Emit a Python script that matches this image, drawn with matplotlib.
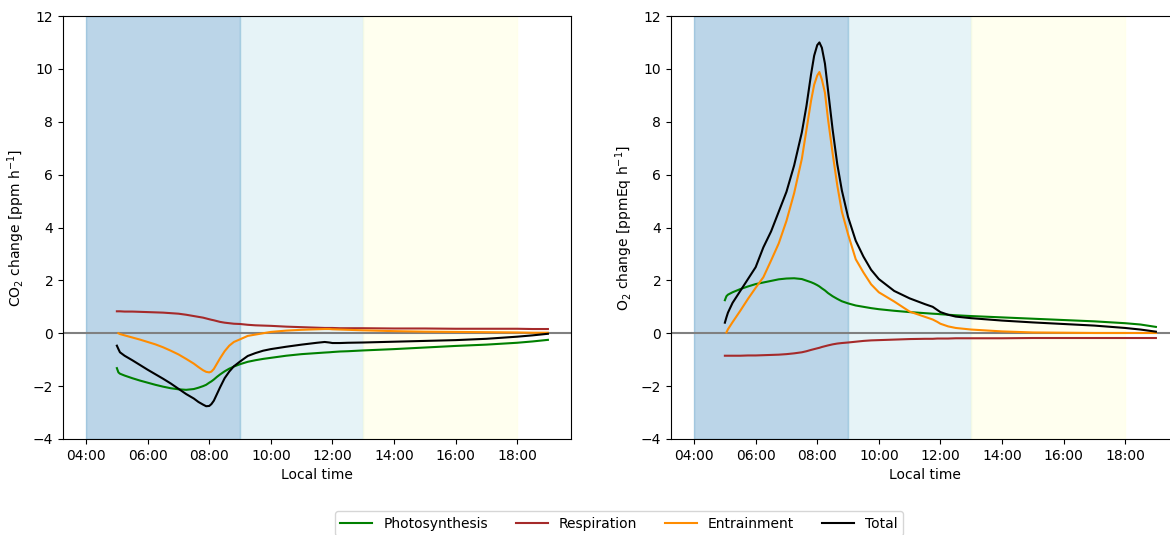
import matplotlib
matplotlib.use("Agg")
import matplotlib.pyplot as plt
import numpy as np

# local time in hours
hours = [5.0, 5.05, 5.1, 5.25, 5.5, 5.75, 6.0, 6.25, 6.5, 6.75, 7.0, 7.25, 7.5, 7.65, 7.8, 7.9,
         8.0, 8.07, 8.15, 8.25, 8.35, 8.5, 8.65, 8.8, 9.0, 9.25, 9.5, 9.75, 10.0, 10.5, 11.0,
         11.5, 11.75, 11.9, 12.0, 12.25, 12.5, 13.0, 14.0, 15.0, 16.0, 17.0, 18.0, 18.5, 19.0]

# CO2 change [ppm h-1]
co2_photo = [-1.32, -1.48, -1.53, -1.6, -1.7, -1.79, -1.87, -1.95, -2.02, -2.08, -2.12, -2.14, -2.11,
             -2.06, -2.0, -1.95, -1.87, -1.82, -1.75, -1.65, -1.56, -1.44, -1.34, -1.26, -1.17, -1.08,
             -1.02, -0.97, -0.93, -0.85, -0.79, -0.75, -0.73, -0.72, -0.71, -0.69, -0.68, -0.65, -0.6,
             -0.54, -0.48, -0.43, -0.36, -0.31, -0.25]
co2_resp = [0.83, 0.83, 0.83, 0.82, 0.82, 0.81, 0.8, 0.79, 0.78, 0.76, 0.74, 0.7, 0.65, 0.62, 0.59,
            0.56, 0.53, 0.51, 0.49, 0.46, 0.43, 0.4, 0.38, 0.36, 0.35, 0.32, 0.3, 0.29, 0.28, 0.25,
            0.23, 0.21, 0.2, 0.2, 0.2, 0.19, 0.19, 0.19, 0.18, 0.18, 0.17, 0.17, 0.17, 0.16, 0.16]
co2_entr = [np.nan, 0.0, -0.03, -0.08, -0.16, -0.24, -0.33, -0.42, -0.53, -0.66, -0.8, -0.97, -1.15,
            -1.28, -1.4, -1.46, -1.48, -1.45, -1.35, -1.15, -0.95, -0.68, -0.47, -0.33, -0.23, -0.1,
            -0.05, 0.0, 0.05, 0.1, 0.13, 0.15, 0.16, 0.16, 0.15, 0.14, 0.13, 0.11, 0.08, 0.06, 0.05,
            0.04, 0.03, 0.02, 0.02]
co2_total = [-0.47, -0.6, -0.72, -0.85, -1.02, -1.2, -1.38, -1.55, -1.72, -1.9, -2.1, -2.3, -2.47,
             -2.6, -2.7, -2.76, -2.75, -2.68, -2.55, -2.3, -2.05, -1.7, -1.45, -1.25, -1.07, -0.86,
             -0.75, -0.66, -0.6, -0.51, -0.43, -0.36, -0.33, -0.35, -0.37, -0.37, -0.36, -0.35, -0.32,
             -0.29, -0.26, -0.21, -0.13, -0.08, -0.02]

# O2 change [ppmEq h-1]
o2_photo = [1.25, 1.4, 1.46, 1.55, 1.67, 1.77, 1.86, 1.92, 1.98, 2.04, 2.07, 2.08, 2.05, 1.99, 1.93,
            1.88, 1.82, 1.77, 1.7, 1.62, 1.52, 1.4, 1.3, 1.21, 1.13, 1.05, 1.0, 0.95, 0.91, 0.85, 0.8,
            0.76, 0.74, 0.73, 0.72, 0.7, 0.68, 0.65, 0.6, 0.55, 0.5, 0.45, 0.38, 0.33, 0.24]
o2_resp = [-0.85, -0.85, -0.85, -0.85, -0.85, -0.84, -0.84, -0.83, -0.82, -0.81, -0.79, -0.76, -0.72,
           -0.68, -0.63, -0.6, -0.57, -0.55, -0.52, -0.49, -0.46, -0.42, -0.39, -0.37, -0.35, -0.32,
           -0.29, -0.27, -0.26, -0.24, -0.22, -0.21, -0.21, -0.2, -0.2, -0.2, -0.19, -0.19, -0.19,
           -0.18, -0.18, -0.18, -0.18, -0.18, -0.18]
o2_entr = [np.nan, 0.03, 0.15, 0.42, 0.85, 1.3, 1.72, 2.12, 2.75, 3.4, 4.25, 5.3, 6.6, 7.7, 8.8, 9.4,
           9.75, 9.88, 9.6, 9.1, 8.1, 6.8, 5.6, 4.6, 3.75, 2.8, 2.3, 1.85, 1.55, 1.2, 0.82, 0.62, 0.52,
           0.43, 0.36, 0.26, 0.2, 0.14, 0.07, 0.03, 0.02, 0.01, 0.01, 0.01, 0.01]
o2_total = [0.4, 0.6, 0.78, 1.15, 1.6, 2.05, 2.5, 3.25, 3.85, 4.6, 5.35, 6.35, 7.6, 8.6, 9.8, 10.5,
            10.9, 11.0, 10.8, 10.2, 9.2, 7.7, 6.4, 5.4, 4.4, 3.5, 2.9, 2.4, 2.05, 1.6, 1.32, 1.1, 1.0,
            0.88, 0.8, 0.7, 0.63, 0.57, 0.48, 0.41, 0.35, 0.29, 0.2, 0.14, 0.06]

series_names = ["Photosynthesis", "Respiration", "Entrainment", "Total"]
series_colors = ["green", "brown", "darkorange", "black"]
tick_hours = [4, 6, 8, 10, 12, 14, 16, 18]

fig = plt.figure(figsize=(11.7, 5.35), dpi=100)
ax1 = fig.add_axes([63 / 1170, 96 / 535, 508 / 1170, 423 / 535])
ax2 = fig.add_axes([671 / 1170, 96 / 535, 508 / 1170, 423 / 535])

panels = [
    (ax1, [co2_photo, co2_resp, co2_entr, co2_total], r"CO$_2$ change [ppm h$^{-1}$]"),
    (ax2, [o2_photo, o2_resp, o2_entr, o2_total], r"O$_2$ change [ppmEq h$^{-1}$]"),
]

for ax, data, ylab in panels:
    # time-of-day periods
    ax.axvspan(4, 9, color="tab:blue", alpha=0.3)
    ax.axvspan(9, 13, color="lightblue", alpha=0.3)
    ax.axvspan(13, 18, color="lightyellow", alpha=0.5)
    ax.axhline(0, color="grey", lw=1.5)
    for vals, name, c in zip(data, series_names, series_colors):
        ax.plot(hours, vals, color=c, lw=1.5, label=name)
    ax.set_xlim(3.25, 19.75)
    ax.set_ylim(-4, 12)
    ax.set_yticks(range(-4, 13, 2))
    ax.set_xticks(tick_hours)
    ax.set_xticklabels([f"{h:02d}:00" for h in tick_hours])
    ax.set_xlabel("Local time")
    ax.set_ylabel(ylab)

handles, labels = ax1.get_legend_handles_labels()
fig.legend(handles, labels, loc="upper center", bbox_to_anchor=(619 / 1170, 1 - 511 / 535),
           ncol=4, borderaxespad=0, handlelength=2.3)

fig.savefig("out.png", dpi=100)
